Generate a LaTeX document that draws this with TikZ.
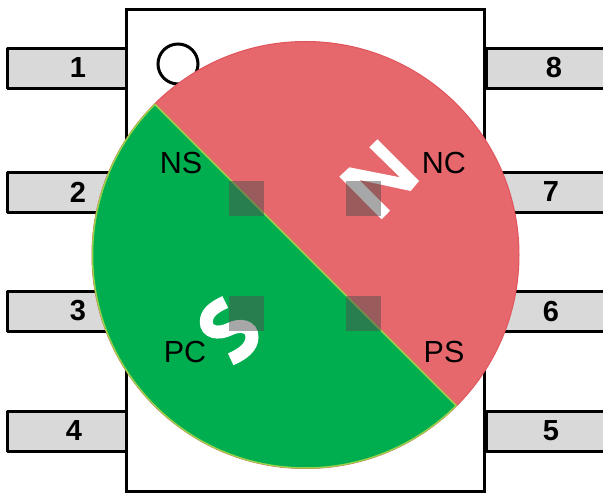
\documentclass[tikz,border=0pt]{standalone}
\usepackage{fontspec}
\setmainfont{Liberation Sans}
\definecolor{pinfill}{HTML}{D9D9D9}
\definecolor{redhalf}{HTML}{E6686C}
\definecolor{redline}{HTML}{E0555C}
\definecolor{greenhalf}{HTML}{00AE4F}
\definecolor{greenline}{HTML}{96D24A}
\definecolor{padfill}{HTML}{505050}
\tikzset{
  pinbox/.style={draw=black,line width=3pt,fill=pinfill,line join=round,minimum width=119pt,minimum height=40pt,inner sep=0pt,outer sep=0pt},
  pinnum/.style={font=\fontsize{29}{29}\selectfont\bfseries,inner sep=0pt},
  padbox/.style={fill=padfill,fill opacity=0.5,minimum size=35pt,inner sep=0pt,outer sep=0pt},
  poletext/.style={font=\fontsize{30.5}{30.5}\selectfont,inner sep=0pt},
}
\begin{document}
\begin{tikzpicture}[x=1pt,y=1pt]
\useasboundingbox (0,0) rectangle (603,493);
\begin{scope}
\clip (0,0) rectangle (603,493);
\node[pinbox] (p1) at (66.5,424.5) {};
\node[pinbox] (p2) at (66.5,300.5) {};
\node[pinbox] (p3) at (66.5,181.5) {};
\node[pinbox] (p4) at (66.5,61.5) {};
\node[pinbox] (p8) at (545.5,424.5) {};
\node[pinbox] (p7) at (545.5,300.5) {};
\node[pinbox] (p6) at (545.5,181.5) {};
\node[pinbox] (p5) at (545.5,61.5) {};
\end{scope}
\node[pinnum] (n1) at (78,425) {1};
\node[pinnum] (n2) at (78,301) {2};
\node[pinnum] (n3) at (78,182) {3};
\node[pinnum] (n4) at (74,62) {4};
\node[pinnum] (n8) at (554,425) {8};
\node[pinnum] (n7) at (551,301) {7};
\node[pinnum] (n6) at (551,181) {6};
\node[pinnum] (n5) at (551,62) {5};
\node[draw=black,line width=3pt,fill=white,minimum width=358pt,minimum height=482pt,inner sep=0pt] (body) at (305,242.5) {};
\node[circle,draw=black,line width=3pt,minimum size=40pt,inner sep=0pt] (dot) at (178,429) {};
% magnet halves
\fill[redhalf] (305.5,238) circle[radius=213.5pt];
\draw[redline,line width=1pt] (305.5,238) circle[radius=213.5pt];
\filldraw[fill=greenhalf,draw=greenline,line width=1.5pt] ([shift={(305.5,238)}]135:213pt) arc[start angle=135,end angle=315,radius=213pt] -- cycle;
% N and S letters
\fill[white] (369.3,345.7) -- (377.3,353.7) -- (419,312) -- (410.7,302) -- (359.3,313) -- (390,282.3) -- (381.7,273.7) -- (339.3,316.3) -- (349.3,325.7) -- (400,315.7) -- cycle;
\draw[white,line width=13pt] (225.3,191) .. controls (212,185) and (206.3,179) .. (206.3,171) .. controls (206.3,161) and (218,158) .. (230,164) .. controls (240,169) and (252,167) .. (252,156) .. controls (252,146) and (243,139) .. (230.7,133.7);
% pads
\node[padbox] (pa) at (246.5,294.5) {};
\node[padbox] (pb) at (363.5,294.5) {};
\node[padbox] (pc) at (246.5,179.5) {};
\node[padbox] (pd) at (363.5,179.5) {};
\node[poletext] (ns) at (181,330) {NS};
\node[poletext] (nc) at (444,330) {NC};
\node[poletext] (pct) at (185,141) {PC};
\node[poletext] (ps) at (444,141) {PS};
\end{tikzpicture}
\end{document}
